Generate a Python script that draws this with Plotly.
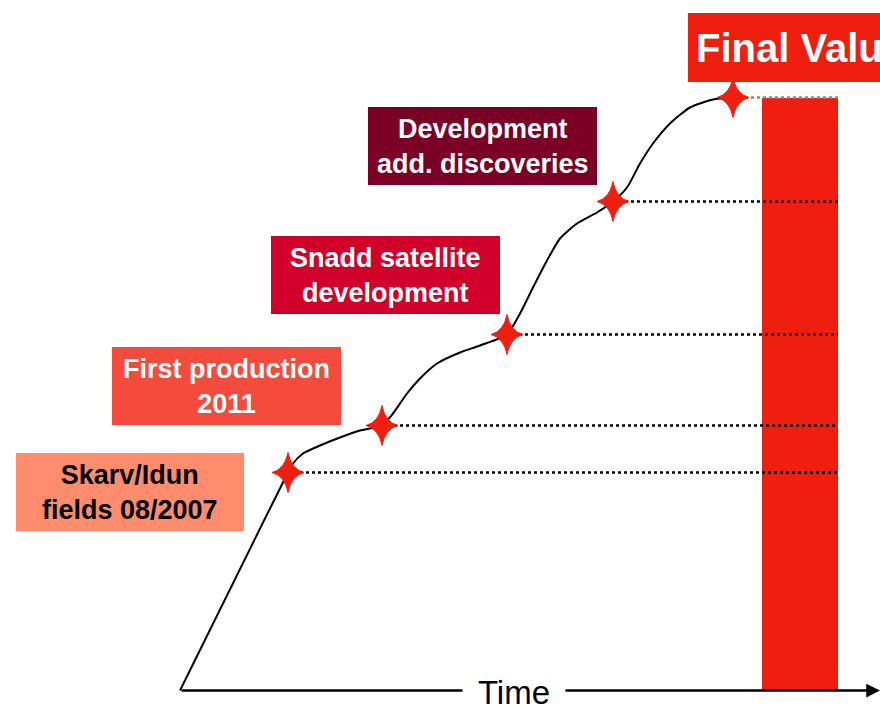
import plotly.graph_objects as go

# ---- data (time units / value units) ----
curve_time = [0, 85, 95, 108, 113, 123, 140, 160, 180, 202, 213, 227, 240, 257, 280, 300,
              327, 340, 353, 367, 380, 397, 417, 433, 447, 460, 473, 490, 510, 533, 553]
curve_value = [0, 172, 192, 218, 227, 237, 245, 253, 260, 265, 277, 297, 312, 327, 338, 345,
               356, 377, 403, 430, 452, 467, 478, 489, 503, 527, 547, 567, 583, 591, 593]

milestone_time = [108, 202, 327, 433, 553]
milestone_value = [218, 265, 356, 489, 593]
milestone_labels = ["Skarv/Idun<br>fields 08/2007",
                    "First production<br>2011",
                    "Snadd satellite<br>development",
                    "Development<br>add. discoveries"]
final_label = "Final Value"
final_value = 593
axis_label = "Time"

# ---- layout helpers (pixel -> data, axes map 1:1 to pixels) ----
X0, Y0 = 180, 690.5
def tx(px):
    return px - X0
def ty(py):
    return Y0 - py

RED = "#F01E0E"
box_colors = ["#FF8D6D", "#F44B3D", "#D0002B", "#7A0026"]
text_colors = ["black", "white", "white", "white"]
boxes = [(16, 453, 244, 531), (112, 347, 341, 425), (271, 236, 500, 314), (368, 107, 597, 185)]

fig = go.Figure()

# final value bar
bar_left, bar_right = tx(762), tx(838)
fig.add_trace(go.Bar(x=[(bar_left + bar_right) / 2], y=[final_value], width=[bar_right - bar_left],
                     marker=dict(color=RED, line=dict(width=0)), showlegend=False, hoverinfo="skip"))

# dotted level lines
end_t = bar_right
for i, (t, v) in enumerate(zip(milestone_time, milestone_value)):
    col = "#8A8A8A" if i == len(milestone_time) - 1 else "black"
    fig.add_trace(go.Scatter(x=[t + 12, end_t], y=[v, v], mode="lines",
                             line=dict(color=col, width=2.5, dash="dot"),
                             showlegend=False, hoverinfo="skip"))

# curve
fig.add_trace(go.Scatter(x=curve_time, y=curve_value, mode="lines",
                         line=dict(color="black", width=2, shape="spline", smoothing=0.6),
                         showlegend=False, hoverinfo="skip"))

shapes = []
annotations = []

# four-point stars at milestones (drawn as paths around each milestone point)
hw, hh, c = 16, 20, 3.2
for t, v in zip(milestone_time, milestone_value):
    path = ("M {x},{yt} Q {xr1},{yu1} {xr},{y} Q {xr1},{yd1} {x},{yb} "
            "Q {xl1},{yd1} {xl},{y} Q {xl1},{yu1} {x},{yt} Z").format(
        x=t, y=v, yt=v + hh, yb=v - hh, xr=t + hw, xl=t - hw,
        xr1=t + c, xl1=t - c, yu1=v + c, yd1=v - c)
    shapes.append(dict(type="path", xref="x", yref="y", path=path,
                       fillcolor=RED, line=dict(color=RED, width=1), layer="above"))

font_family = "Liberation Sans, Arial, sans-serif"
for (x0, y0, x1, y1), col, tcol, lab in zip(boxes, box_colors, text_colors, milestone_labels):
    shapes.append(dict(type="rect", xref="x", yref="y", x0=tx(x0), x1=tx(x1), y0=ty(y0), y1=ty(y1),
                       fillcolor=col, line=dict(width=0), layer="above"))
    annotations.append(dict(x=tx((x0 + x1) / 2), y=ty((y0 + y1) / 2), xref="x", yref="y",
                            text="<b>%s</b>" % lab, showarrow=False,
                            font=dict(family=font_family, size=27, color=tcol),
                            xanchor="center", yanchor="middle"))

# Final value box
shapes.append(dict(type="rect", xref="x", yref="y", x0=tx(688), x1=tx(900), y0=ty(13), y1=ty(82),
                   fillcolor=RED, line=dict(width=0), layer="above"))
annotations.append(dict(x=tx(694), y=ty(47.5), xref="x", yref="y", text="<b>%s</b>" % final_label,
                        showarrow=False, font=dict(family=font_family, size=40, color="white"),
                        xanchor="left", yanchor="middle"))

# time axis arrow
annotations.append(dict(x=tx(880), y=0, ax=0, ay=0, xref="x", yref="y", axref="x", ayref="y",
                        text="", showarrow=True, arrowhead=2, arrowsize=1.1, arrowwidth=2.5,
                        arrowcolor="black"))
annotations.append(dict(x=tx(514), y=ty(692), xref="x", yref="y", text=axis_label, showarrow=False,
                        font=dict(family=font_family, size=33, color="black"),
                        bgcolor="white", width=100, height=38, xanchor="center", yanchor="middle"))

fig.update_layout(
    width=880, height=706, margin=dict(l=0, r=0, t=0, b=0),
    paper_bgcolor="white", plot_bgcolor="white",
    xaxis=dict(range=[tx(0), tx(880)], visible=False, fixedrange=True),
    yaxis=dict(range=[ty(706), ty(0)], visible=False, fixedrange=True),
    shapes=shapes, annotations=annotations, bargap=0,
)

fig.write_html("out.html", config={"displayModeBar": False},
               post_script="document.body.style.margin='0';document.body.style.overflow='hidden';")
